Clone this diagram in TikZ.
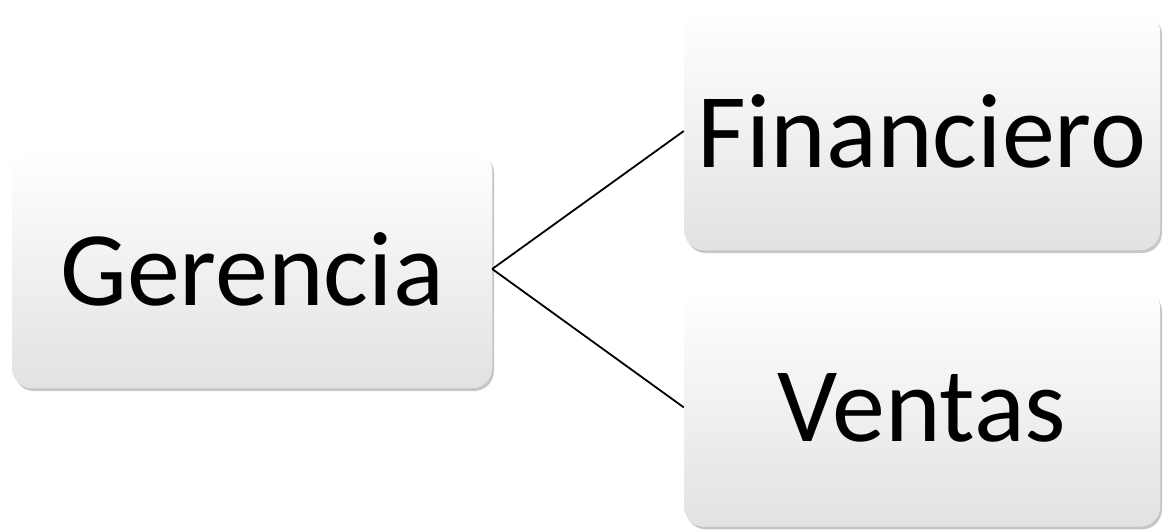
\documentclass[tikz,border=0pt]{standalone}
\usepackage{fontspec}
\setmainfont{Carlito}
\usetikzlibrary{positioning, shadows}
\definecolor{boxGray}{RGB}{226, 226, 226}

\begin{document}
\begin{tikzpicture}[
    x=1pt, y=-1pt,
    orgbox/.style={
      rectangle, fill=white, rounded corners=20pt,
      top color=white, bottom color=boxGray, draw=none,
      minimum height=238pt, inner sep=0pt,
      font=\fontsize{106}{120}\selectfont,
      drop shadow={shadow xshift=2pt, shadow yshift=-3pt, opacity=0.45}
    },
    link/.style={black, line width=1.8pt},
  ]
    \useasboundingbox (0,0) rectangle (1168,532);
    \node[orgbox, minimum width=480pt] (ger) at (252,269) {Gerencia};
    \node[orgbox, minimum width=476pt] (fin) at (922,131) {Financiero};
    \node[orgbox, minimum width=476pt, below=38pt of fin] (ven) {Ventas};

    \foreach \j in {fin, ven} {
      \draw[link] (ger.east) -- (\j.west);
    }
  \end{tikzpicture}
\end{document}
